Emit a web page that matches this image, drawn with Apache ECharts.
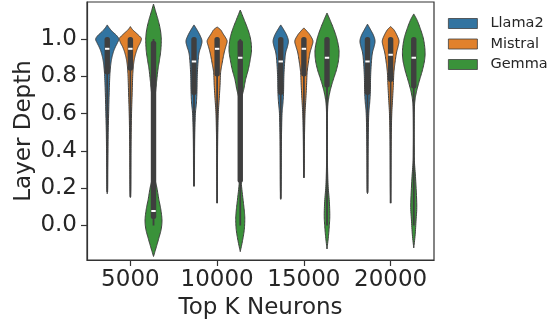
<!DOCTYPE html>
<html>
<head>
<meta charset="utf-8">
<script src="https://cdn.jsdelivr.net/npm/echarts@6/dist/echarts.min.js"></script>
<style>
  html, body { margin: 0; padding: 0; background: #ffffff; }
  #chart { width: 553px; height: 325px; }
</style>
</head>
<body>
<div id="chart"></div>
<script>
// Categories, models and tick labels
const categories = ['5000', '10000', '15000', '20000'];
const models = ['Llama2', 'Mistral', 'Gemma'];
const yTicks = [0, 0.2, 0.4, 0.6, 0.8, 1.0];

// Kernel density profiles per Top-K setting: [layer depth, relative density], top to bottom
const llama2Density = [
  [[1.076,0],[1.06,0.17],[1.04,0.45],[1.02,0.8],[1.0,1.0],[0.98,0.88],[0.96,0.72],[0.94,0.58],[0.92,0.48],[0.90,0.40],[0.88,0.34],[0.85,0.28],[0.80,0.22],[0.70,0.16],[0.60,0.12],[0.50,0.08],[0.40,0.06],[0.30,0.04],[0.20,0.03],[0.17,0]],
  [[1.076,0],[1.05,0.26],[1.02,0.52],[0.99,0.69],[0.96,0.6],[0.925,0.43],[0.87,0.34],[0.80,0.28],[0.71,0.25],[0.65,0.2],[0.6,0.12],[0.5,0.07],[0.4,0.05],[0.3,0.04],[0.21,0]],
  [[1.076,0],[1.05,0.26],[1.02,0.52],[0.99,0.66],[0.96,0.58],[0.925,0.42],[0.87,0.33],[0.80,0.27],[0.71,0.24],[0.65,0.18],[0.6,0.11],[0.5,0.07],[0.4,0.05],[0.3,0.04],[0.2,0.03],[0.14,0]],
  [[1.08,0],[1.05,0.27],[1.02,0.52],[0.99,0.65],[0.96,0.57],[0.925,0.42],[0.87,0.33],[0.80,0.27],[0.71,0.24],[0.65,0.18],[0.6,0.11],[0.5,0.07],[0.4,0.05],[0.3,0.04],[0.2,0.03],[0.17,0]]
];
const mistralDensity = [
  [[1.067,0],[1.05,0.2],[1.03,0.55],[1.01,0.88],[1.0,0.95],[0.98,0.85],[0.96,0.68],[0.94,0.55],[0.92,0.45],[0.90,0.37],[0.88,0.31],[0.85,0.25],[0.80,0.2],[0.70,0.15],[0.60,0.1],[0.50,0.07],[0.40,0.05],[0.30,0.04],[0.20,0.03],[0.15,0]],
  [[1.065,0],[1.05,0.3],[1.03,0.5],[1.0,0.8],[0.985,0.86],[0.96,0.75],[0.925,0.6],[0.87,0.43],[0.82,0.3],[0.75,0.25],[0.68,0.18],[0.6,0.1],[0.5,0.06],[0.4,0.04],[0.3,0.03],[0.2,0.02],[0.12,0]],
  [[1.06,0],[1.04,0.3],[1.02,0.55],[0.99,0.78],[0.96,0.68],[0.925,0.52],[0.87,0.38],[0.82,0.28],[0.75,0.23],[0.68,0.17],[0.6,0.1],[0.5,0.06],[0.4,0.04],[0.3,0.03],[0.256,0]],
  [[1.067,0],[1.05,0.28],[1.02,0.55],[0.99,0.72],[0.96,0.64],[0.925,0.5],[0.87,0.37],[0.82,0.28],[0.75,0.23],[0.68,0.17],[0.6,0.1],[0.5,0.06],[0.4,0.04],[0.3,0.03],[0.2,0.02],[0.12,0]]
];
const gemmaDensity = [
  [[1.188,0],[1.14,0.22],[1.10,0.41],[1.05,0.59],[1.0,0.67],[0.94,0.63],[0.89,0.52],[0.84,0.39],[0.78,0.28],[0.73,0.2],[0.68,0.12],[0.6,0.06],[0.5,0.03],[0.4,0.02],[0.3,0.03],[0.25,0.12],[0.2,0.3],[0.14,0.46],[0.09,0.62],[0.03,0.73],[-0.02,0.66],[-0.07,0.45],[-0.12,0.22],[-0.166,0]],
  [[1.156,0],[1.10,0.36],[1.05,0.67],[1.0,0.89],[0.943,0.97],[0.89,0.86],[0.836,0.69],[0.783,0.46],[0.73,0.3],[0.68,0.12],[0.6,0.05],[0.5,0.03],[0.4,0.03],[0.3,0.04],[0.22,0.1],[0.15,0.22],[0.09,0.33],[0.04,0.39],[-0.02,0.35],[-0.08,0.2],[-0.14,0]],
  [[1.14,0],[1.10,0.28],[1.05,0.6],[1.0,0.86],[0.943,1.03],[0.89,1.0],[0.836,0.82],[0.78,0.53],[0.73,0.3],[0.677,0.13],[0.62,0.05],[0.5,0.03],[0.4,0.03],[0.3,0.05],[0.21,0.1],[0.13,0.2],[0.055,0.24],[0.0,0.2],[-0.06,0.12],[-0.126,0]],
  [[1.135,0],[1.10,0.3],[1.05,0.6],[1.0,0.84],[0.94,0.97],[0.89,0.94],[0.836,0.76],[0.78,0.5],[0.73,0.28],[0.68,0.12],[0.62,0.05],[0.5,0.03],[0.4,0.04],[0.34,0.06],[0.25,0.16],[0.11,0.26],[0.03,0.2],[-0.05,0.12],[-0.12,0]]
];

// Box summaries: [whisker low, q1, median, q3, whisker high]
const llama2Box  = [[0.18,0.81,0.948,1.0,1.0],[0.21,0.70,0.88,1.0,1.0],[0.144,0.70,0.88,1.0,1.0],[0.176,0.70,0.88,1.0,1.0]];
const mistralBox = [[0.154,0.83,0.948,1.0,1.0],[0.12,0.80,0.948,1.0,1.0],[0.256,0.80,0.948,1.0,1.0],[0.12,0.77,0.916,1.0,1.0]];
const gemmaBox   = [[0.0,0.035,0.078,0.98,1.0],[0.0,0.23,0.90,0.985,1.0],[0.0,0.74,0.90,1.0,1.0],[0.0,0.735,0.90,1.0,1.0]];

const palette = ['#3274a1', '#e1812c', '#3a923a'];
const densities = [llama2Density, mistralDensity, gemmaDensity];
const boxes = [llama2Box, mistralBox, gemmaBox];

const FONT = 'DejaVu Sans';
const INK = '#262626';
const INNER = '#3f3f3f';
const AXIS_FONT = 23;

// Catmull-Rom resampling of a density profile so the outline is smooth
function smoothProfile(p) {
  const out = [];
  const n = p.length;
  for (let i = 0; i < n - 1; i++) {
    const p0 = p[Math.max(i - 1, 0)], p1 = p[i], p2 = p[i + 1], p3 = p[Math.min(i + 2, n - 1)];
    const steps = 8;
    for (let s = 0; s < steps; s++) {
      const t = s / steps, t2 = t * t, t3 = t2 * t;
      const f = (a, b, c, d) => 0.5 * ((2 * b) + (-a + c) * t + (2 * a - 5 * b + 4 * c - d) * t2 + (-a + 3 * b - 3 * c + d) * t3);
      out.push([f(p0[0], p1[0], p2[0], p3[0]), Math.max(0, f(p0[1], p1[1], p2[1], p3[1]))]);
    }
  }
  out.push(p[n - 1]);
  return out;
}

function violinSeries(mi) {
  return {
    type: 'custom',
    name: models[mi],
    itemStyle: { color: palette[mi], borderColor: INNER, borderWidth: 1 },
    data: categories.map((c, i) => [i]),
    renderItem: function (params, api) {
      const ci = api.value(0);
      const band = params.coordSys.width / categories.length;
      const cx = api.coord([ci, 0])[0] + (mi - 1) * band * 0.8 / 3;
      const halfScale = band * 0.1337;
      const prof = smoothProfile(densities[mi][ci]);
      const right = prof.map(q => [cx + q[1] * halfScale, api.coord([ci, q[0]])[1]]);
      const left = prof.slice().reverse().map(q => [cx - q[1] * halfScale, api.coord([ci, q[0]])[1]]);
      const b = boxes[mi][ci];
      const yWl = api.coord([ci, b[0]])[1];
      const yQ1 = api.coord([ci, b[1]])[1];
      const yMed = api.coord([ci, b[2]])[1];
      const yQ3 = api.coord([ci, b[3]])[1];
      const yWh = api.coord([ci, b[4]])[1];
      const bw = 5.4;
      return {
        type: 'group',
        children: [
          {
            type: 'polygon',
            shape: { points: right.concat(left) },
            style: { fill: palette[mi], stroke: INNER, lineWidth: 1 }
          },
          {
            type: 'line',
            shape: { x1: cx, y1: yWl, x2: cx, y2: yWh },
            style: { stroke: INNER, lineWidth: 1.8 }
          },
          {
            type: 'rect',
            shape: { x: cx - bw / 2, y: yQ3 - 2, width: bw, height: yQ1 - yQ3 + 2, r: 2.5 },
            style: { fill: INNER }
          },
          {
            type: 'rect',
            shape: { x: cx - 2.2, y: yMed - 1, width: 4.4, height: 2 },
            style: { fill: '#ffffff' }
          }
        ]
      };
    }
  };
}

const chart = echarts.init(document.getElementById('chart'), null, { renderer: 'canvas' });
chart.setOption({
  animation: false,
  backgroundColor: '#ffffff',
  textStyle: { fontFamily: FONT },
  grid: { left: 87, right: 119, top: 2, bottom: 63, show: true, borderColor: '#333333', borderWidth: 1.2, backgroundColor: 'transparent' },
  legend: {
    data: models,
    orient: 'vertical',
    left: 443,
    top: 11,
    padding: 5,
    icon: 'rect',
    itemWidth: 29,
    itemHeight: 10,
    itemGap: 5.5,
    itemStyle: { borderColor: INNER, borderWidth: 0.8 },
    textStyle: { fontSize: 14.5, color: INK, fontFamily: FONT, padding: [0, 0, 0, 8] }
  },
  xAxis: {
    type: 'category',
    data: categories,
    boundaryGap: true,
    name: 'Top K Neurons',
    nameLocation: 'middle',
    nameGap: 37,
    nameMoveOverlap: false,
    nameTextStyle: { fontSize: AXIS_FONT, color: INK, fontFamily: FONT },
    axisLine: { show: true, onZero: false, lineStyle: { color: '#333333', width: 1.2 } },
    axisTick: { show: true, alignWithLabel: true, length: 6, lineStyle: { color: '#333333', width: 1.2 } },
    axisLabel: { interval: 0, fontSize: AXIS_FONT, color: INK, fontFamily: FONT, margin: 9 },
    splitLine: { show: false }
  },
  yAxis: {
    type: 'value',
    min: -0.185,
    max: 1.199,
    name: 'Layer Depth',
    nameLocation: 'middle',
    nameGap: 51,
    nameMoveOverlap: false,
    nameTextStyle: { fontSize: AXIS_FONT, color: INK, fontFamily: FONT },
    axisLine: { show: true, lineStyle: { color: '#333333', width: 1.2 } },
    axisTick: { show: true, length: 6, customValues: yTicks, lineStyle: { color: '#333333', width: 1.2 } },
    axisLabel: { customValues: yTicks, formatter: v => v.toFixed(1), fontSize: AXIS_FONT, color: INK, fontFamily: FONT, margin: 10 },
    splitLine: { show: false }
  },
  series: [violinSeries(0), violinSeries(1), violinSeries(2)]
});
</script>
</body>
</html>
